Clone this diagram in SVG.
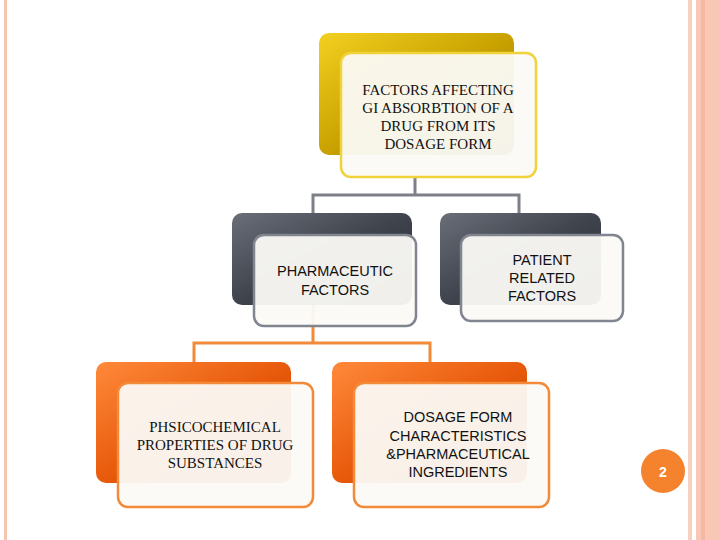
<svg xmlns="http://www.w3.org/2000/svg" width="720" height="540" viewBox="0 0 720 540">
<defs>
<linearGradient id="gold" x1="0" y1="0" x2="1" y2="1"><stop offset="0" stop-color="#f2d020"/><stop offset="0.5" stop-color="#c9a200"/><stop offset="1" stop-color="#8a6d00"/></linearGradient>
<linearGradient id="dark" x1="0" y1="0" x2="1" y2="1"><stop offset="0" stop-color="#6a6e78"/><stop offset="0.5" stop-color="#3e434c"/><stop offset="1" stop-color="#2a2e36"/></linearGradient>
<linearGradient id="org" x1="0" y1="0" x2="1" y2="1"><stop offset="0" stop-color="#ff8a3a"/><stop offset="0.5" stop-color="#e85a0c"/><stop offset="1" stop-color="#b83e00"/></linearGradient>
<style>
.f{fill:#fbfaf6;fill-opacity:0.95;stroke-width:2.5}
.t{font-family:"Liberation Serif",serif;font-size:15px;fill:#111;text-anchor:middle}
.s{font-family:"Liberation Sans",sans-serif;font-size:14.5px;fill:#111;text-anchor:middle}
.c{fill:none;stroke-width:3}
</style>
</defs>
<rect x="0" y="0" width="720" height="540" fill="#fff"/>
<rect x="4" y="0" width="3" height="540" fill="#f6c5b2"/>
<rect x="688" y="0" width="4" height="540" fill="#f8d0c0"/>
<rect x="696" y="0" width="24" height="540" fill="#f9c7b5"/>
<rect x="701" y="0" width="4" height="540" fill="#f6b8a2"/>
<g id="connectors">
<path class="c" stroke="#7d8088" d="M415 177V195M313 213V195H519V213"/>
<path class="c" stroke="#f28a3a" d="M313 305V343M194 362V343H430V362"/>
</g>
<g id="top">
<rect x="319" y="33" width="195" height="122" rx="10" fill="url(#gold)"/>
<rect class="f" x="341" y="53" width="195" height="124" rx="10" stroke="#f0d23a"/>
<text class="t" x="438" y="95">FACTORS AFFECTING</text>
<text class="t" x="438" y="113">GI  ABSORBTION OF A</text>
<text class="t" x="438" y="131">DRUG FROM ITS</text>
<text class="t" x="438" y="149">DOSAGE FORM</text>
</g>
<g id="pharm">
<rect x="232" y="213" width="180" height="92" rx="10" fill="url(#dark)"/>
<rect class="f" x="254" y="235" width="162" height="91" rx="10" stroke="#808590"/>
<text class="s" x="335" y="276">PHARMACEUTIC</text>
<text class="s" x="335" y="295">FACTORS</text>
</g>
<g id="patient">
<rect x="440" y="213" width="161" height="92" rx="10" fill="url(#dark)"/>
<rect class="f" x="461" y="235" width="162" height="86" rx="10" stroke="#808590"/>
<text class="s" x="542" y="265">PATIENT</text>
<text class="s" x="542" y="283">RELATED</text>
<text class="s" x="542" y="301">FACTORS</text>
</g>
<g id="phys">
<rect x="96" y="362" width="195" height="121" rx="10" fill="url(#org)"/>
<rect class="f" x="118" y="383" width="195" height="124" rx="10" stroke="#f28a3a"/>
<text class="t" x="215" y="432">PHSICOCHEMICAL</text>
<text class="t" x="215" y="450">PROPERTIES OF DRUG</text>
<text class="t" x="215" y="468">SUBSTANCES</text>
</g>
<g id="dosage">
<rect x="332" y="362" width="195" height="121" rx="10" fill="url(#org)"/>
<rect class="f" x="354" y="383" width="195" height="124" rx="10" stroke="#f28a3a"/>
<text class="s" x="458" y="422">DOSAGE FORM</text>
<text class="s" x="458" y="441">CHARACTERISTICS</text>
<text class="s" x="458" y="459">&amp;PHARMACEUTICAL</text>
<text class="s" x="458" y="477">INGREDIENTS</text>
</g>
<circle cx="663" cy="471" r="22" fill="#f5832e"/>
<text x="663" y="477" font-family="Liberation Sans,sans-serif" font-size="14" font-weight="bold" fill="#fff" text-anchor="middle">2</text>
</svg>
